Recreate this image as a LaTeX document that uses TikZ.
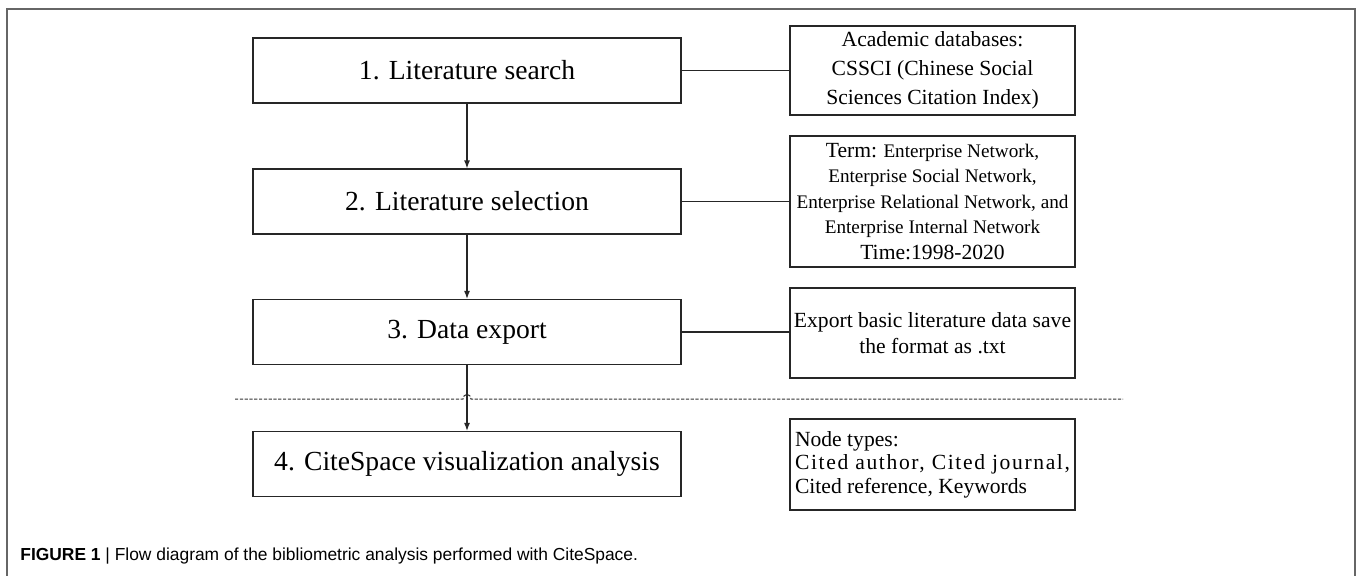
\documentclass[tikz,border=0pt]{standalone}
\usepackage{fontspec}
\setmainfont{Liberation Serif}
\setsansfont{Liberation Sans}
\usetikzlibrary{arrows.meta}
\begin{document}
\begin{tikzpicture}[x=0.5pt,y=-0.5pt,
  stage/.style={draw=black!85, line width=0.6pt, minimum width=214pt, minimum height=32.5pt, inner sep=0pt, font=\fontsize{13.8}{16}\selectfont},
  info/.style={draw=black!85, line width=0.6pt, minimum width=142.5pt, inner xsep=1.5pt, inner ysep=0pt, align=center},
  link/.style={black!85, line width=0.6pt},
  flow/.style={link, -{Latex[length=4pt,width=3pt]}}]
\useasboundingbox (0,0) rectangle (1358,575);
\draw[black!60, line width=0.75pt] (7,576) -- (7,9) -- (1355,9) -- (1355,576);

% main steps
\node[stage] (search) at (467,70.5) {1. Literature search};
\node[stage] (select) at (467,201.5) {2. Literature selection};
\node[stage] (export) at (467,332) {3. Data export};
\node[stage] (visual) at (467,464) {4. CiteSpace visualization analysis};

% notes on the right
\node[info, minimum height=44.5pt, font=\fontsize{10.8}{14.5}\selectfont] (db) at (932.5,70.5)
  {Academic databases:\\CSSCI (Chinese Social\\Sciences Citation Index)};
\node[info, minimum height=65.5pt, font=\fontsize{9.6}{12.75}\selectfont] (term) at (932.5,201.5)
  {{\fontsize{10.8}{12.75}\selectfont Term:} Enterprise Network,\\Enterprise Social Network,\\Enterprise Relational Network, and\\Enterprise Internal Network\\{\fontsize{10.8}{12.75}\selectfont Time:1998-2020}};
\node[info, minimum height=45pt, font=\fontsize{10.8}{13}\selectfont] (fmt) at (932.5,333)
  {Export basic literature data save\\the format as .txt};
\node[info, minimum height=45.5pt, align=left, font=\fontsize{10.8}{11.75}\selectfont] (types) at (932.5,464.5)
  {Node types:\\{\addfontfeature{LetterSpace=7.5}Cited author, Cited journal,}\\Cited reference, Keywords};

% connectors
\draw[link] (search.east) -- (db.west);
\draw[link] (select.east) -- (term.west);
\draw[link] (export.east) -- (export.east -| fmt.west);
\draw[flow] (search) -- (select);
\draw[flow] (select) -- (export);
\draw[flow] (export) -- (visual);

% dashed divider with a hop over the arrow
\coordinate (cutL) at (235,399);
\coordinate (cutR) at (1123,399);
\draw[black!80, line width=0.5pt, dash pattern=on 1.6pt off 0.8pt]
  (cutL) -- (463,399) .. controls (463,393) and (471,393) .. (471,399) -- (cutR);

% caption
\node[anchor=west, inner sep=0pt, font=\sffamily\fontsize{8.7}{10}\selectfont] (cap) at (20,556)
  {\textbf{FIGURE 1} | Flow diagram of the bibliometric analysis performed with CiteSpace.};
\end{tikzpicture}
\end{document}
